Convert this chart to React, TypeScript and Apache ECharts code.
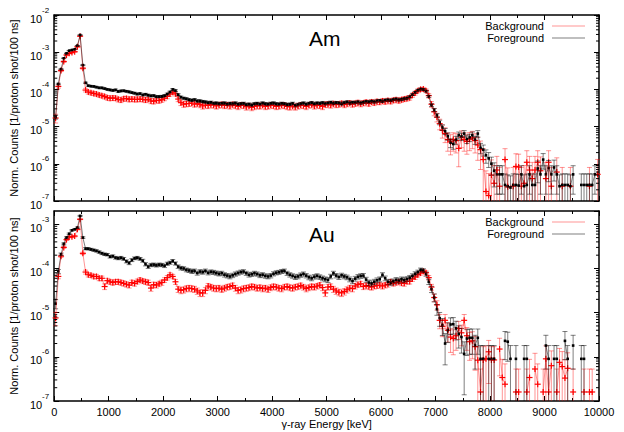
import React, { useEffect, useRef } from "react";
import * as echarts from "echarts";

// ---------- data (50 keV bins, bin centres 25, 75, ..., 9975 keV) ----------
const BIN_WIDTH_KEV = 50;

const amForeground: (number | null)[] = [
  1.8e-5, 1.4e-4, 3.5e-4, 6.9e-4, 9.3e-4, 1.1e-3, 1.15e-3, 1.2e-3, 1.5e-3, 2.9e-3,
  4.5e-4, 1.5e-4, 1.26e-4, 1.22e-4, 1.2e-4, 1.15e-4, 1.1e-4, 1.1e-4, 1.05e-4, 1.0e-4,
  9.7e-5, 9.4e-5, 9.7e-5, 8.8e-5, 9.1e-5, 9.2e-5, 8.9e-5, 8.6e-5, 8.2e-5, 7.9e-5,
  7.5e-5, 7.7e-5, 7.1e-5, 7.4e-5, 7.0e-5, 6.7e-5, 6.8e-5, 6.4e-5, 6.4e-5, 6.5e-5,
  6.8e-5, 7.5e-5, 8.5e-5, 1.0e-4, 9.3e-5, 7.2e-5, 6.2e-5, 5.8e-5, 5.6e-5, 5.3e-5,
  5.1e-5, 5.3e-5, 4.9e-5, 4.9e-5, 4.7e-5, 4.6e-5, 4.4e-5, 4.5e-5, 4.2e-5, 4.3e-5,
  4.1e-5, 4.2e-5, 4.3e-5, 4.0e-5, 4.2e-5, 4.1e-5, 4.3e-5, 4.0e-5, 4.1e-5, 4.2e-5,
  3.9e-5, 4.0e-5, 3.8e-5, 4.1e-5, 4.2e-5, 4.0e-5, 4.3e-5, 4.1e-5, 4.0e-5, 4.2e-5,
  4.3e-5, 4.1e-5, 4.0e-5, 4.2e-5, 4.1e-5, 3.9e-5, 4.0e-5, 4.2e-5, 3.7e-5, 3.9e-5,
  4.1e-5, 4.3e-5, 4.0e-5, 4.2e-5, 4.4e-5, 4.1e-5, 4.3e-5, 4.2e-5, 4.4e-5, 4.1e-5,
  4.3e-5, 4.5e-5, 4.2e-5, 4.4e-5, 4.3e-5, 4.1e-5, 4.4e-5, 4.6e-5, 4.3e-5, 4.5e-5,
  4.4e-5, 4.6e-5, 4.3e-5, 4.5e-5, 4.7e-5, 4.6e-5, 4.8e-5, 4.6e-5, 4.9e-5, 5.0e-5,
  4.8e-5, 5.1e-5, 5.2e-5, 5.0e-5, 5.3e-5, 5.5e-5, 5.2e-5, 5.4e-5, 5.6e-5, 5.8e-5,
  6.3e-5, 7.2e-5, 8.3e-5, 9.5e-5, 1.02e-4, 1.0e-4, 9.0e-5, 6.5e-5, 3.8e-5, 2.8e-5,
  2.0e-5, 1.3e-5, 9.5e-6, 7.5e-6, 5.5e-6, 3.7e-6, 3.4e-6, 4.4e-6, 5.9e-6, 5.4e-6,
  6.5e-6, 4.6e-6, 5.1e-6, 5.9e-6, 4.4e-6, 6.5e-6, 2.7e-6, 2.4e-6, 1.7e-6, 1.4e-6,
  1.0e-6, 6.5e-7, 5.2e-7, 5.2e-7, 5.2e-7, 2.7e-7, 2.5e-7, 2.3e-7, 2.7e-7, 2.7e-7,
  2.6e-7, 5.2e-7, 2.5e-7, 2.7e-7, 5.2e-7, 2.7e-7, 2.7e-7, 7.5e-7, 5.2e-7, 1.3e-6,
  5.2e-7, 7.8e-7, 5.2e-7, 8.0e-7, 5.2e-7, 2.5e-7, 2.7e-7, 2.7e-7, 2.7e-7, 2.5e-7,
  5.2e-7, null, null, 2.7e-7, 2.7e-7, 2.7e-7, 2.7e-7, 2.7e-7, 5.2e-7, null,
];

const amBackground: (number | null)[] = [
  1.7e-5, 1.2e-4, 3.2e-4, 5.6e-4, 8.4e-4, 9.3e-4, 9.8e-4, 1.03e-3, 1.4e-3, 2.7e-3,
  3.7e-4, 9.6e-5, 8.5e-5, 8.1e-5, 7.8e-5, 7.5e-5, 7.1e-5, 6.8e-5, 6.4e-5, 6.0e-5,
  5.8e-5, 5.9e-5, 5.8e-5, 5.4e-5, 5.2e-5, 5.6e-5, 5.7e-5, 5.4e-5, 5.5e-5, 5.4e-5,
  5.4e-5, 5.5e-5, 5.4e-5, 5.2e-5, 5.4e-5, 4.9e-5, 4.8e-5, 5.1e-5, 5.0e-5, 5.3e-5,
  5.8e-5, 6.5e-5, 7.5e-5, 8.4e-5, 7.6e-5, 5.5e-5, 4.4e-5, 4.0e-5, 4.1e-5, 4.2e-5,
  4.3e-5, 4.0e-5, 4.2e-5, 3.9e-5, 3.6e-5, 3.8e-5, 3.7e-5, 3.9e-5, 3.8e-5, 3.6e-5,
  3.8e-5, 3.9e-5, 3.7e-5, 3.8e-5, 3.6e-5, 3.9e-5, 3.7e-5, 3.5e-5, 3.8e-5, 3.7e-5,
  3.4e-5, 3.6e-5, 3.3e-5, 3.5e-5, 3.7e-5, 3.6e-5, 3.8e-5, 3.5e-5, 3.6e-5, 3.8e-5,
  3.7e-5, 3.5e-5, 3.6e-5, 3.8e-5, 3.7e-5, 3.5e-5, 3.4e-5, 3.6e-5, 3.4e-5, 3.6e-5,
  3.8e-5, 3.7e-5, 3.5e-5, 3.8e-5, 3.9e-5, 3.6e-5, 3.8e-5, 3.7e-5, 3.5e-5, 3.9e-5,
  4.0e-5, 3.8e-5, 4.1e-5, 3.9e-5, 4.0e-5, 4.2e-5, 3.9e-5, 4.1e-5, 4.3e-5, 4.0e-5,
  4.2e-5, 4.4e-5, 4.1e-5, 4.3e-5, 4.5e-5, 4.2e-5, 4.6e-5, 4.4e-5, 4.7e-5, 4.6e-5,
  4.9e-5, 4.7e-5, 5.0e-5, 4.8e-5, 5.1e-5, 5.3e-5, 5.0e-5, 5.3e-5, 5.5e-5, 5.7e-5,
  6.0e-5, 7.0e-5, 8.0e-5, 9.2e-5, 1.0e-4, 1.02e-4, 9.2e-5, 6.8e-5, 4.0e-5, 2.5e-5,
  1.8e-5, 1.2e-5, 8.0e-6, 6.5e-6, 4.5e-6, 3.9e-6, 4.5e-6, 4.2e-6, 2.6e-6, 5.2e-6,
  4.5e-6, 4.0e-6, 4.6e-6, 5.0e-6, 4.2e-6, 3.2e-6, 2.4e-6, 1.3e-6, 1.8e-7, 1.4e-7,
  5.0e-7, 3.0e-7, 6.8e-7, 2.5e-7, null, 1.3e-6, 2.4e-7, null, 2.5e-7, 8.5e-7,
  8.2e-7, 2.5e-7, 3.0e-7, 1.1e-6, 6.8e-7, 4.0e-7, 6.8e-7, 1.1e-6, 6.5e-7, null,
  4.0e-7, 1.1e-6, 2.5e-7, null, 6.0e-7, null, 2.5e-7, null, null, 2.5e-7,
  null, null, null, null, null, null, 2.5e-7, null, null, 5.2e-7,
];

const auForeground: (number | null)[] = [
  1.6e-5, 8.6e-5, 2.1e-4, 3.6e-4, 5.0e-4, 6.1e-4, 7.3e-4, 7.7e-4, 8.4e-4, 1.55e-3,
  5.0e-4, 2.8e-4, 2.8e-4, 2.7e-4, 2.6e-4, 2.5e-4, 2.35e-4, 2.2e-4, 2.1e-4, 2.05e-4,
  1.85e-4, 1.9e-4, 1.75e-4, 1.7e-4, 1.75e-4, 1.65e-4, 1.45e-4, 1.33e-4, 1.55e-4, 1.7e-4,
  1.75e-4, 1.65e-4, 1.5e-4, 1.25e-4, 1.1e-4, 1.2e-4, 1.22e-4, 1.18e-4, 1.22e-4, 1.2e-4,
  1.15e-4, 1.28e-4, 1.35e-4, 1.48e-4, 1.3e-4, 1.1e-4, 1.02e-4, 1.0e-4, 9.3e-5, 9.0e-5,
  8.6e-5, 8.8e-5, 7.9e-5, 8.5e-5, 8.3e-5, 8.8e-5, 8.0e-5, 8.4e-5, 8.2e-5, 7.9e-5,
  7.6e-5, 7.8e-5, 7.2e-5, 6.9e-5, 6.6e-5, 7.0e-5, 7.5e-5, 7.9e-5, 8.3e-5, 8.5e-5,
  7.8e-5, 7.2e-5, 7.4e-5, 7.8e-5, 7.5e-5, 7.0e-5, 7.2e-5, 6.8e-5, 6.6e-5, 6.9e-5,
  7.6e-5, 8.0e-5, 8.2e-5, 8.6e-5, 8.8e-5, 7.8e-5, 7.2e-5, 6.8e-5, 6.4e-5, 6.6e-5,
  7.1e-5, 7.5e-5, 6.9e-5, 6.3e-5, 6.0e-5, 6.5e-5, 6.8e-5, 6.4e-5, 6.0e-5, 5.7e-5,
  5.5e-5, 6.6e-5, 7.8e-5, 6.9e-5, 6.4e-5, 7.0e-5, 6.6e-5, 6.3e-5, 5.7e-5, 5.2e-5,
  5.9e-5, 6.5e-5, 6.8e-5, 6.9e-5, 5.6e-5, 4.8e-5, 4.6e-5, 5.0e-5, 5.4e-5, 5.7e-5,
  7.2e-5, 6.0e-5, 5.0e-5, 4.8e-5, 5.1e-5, 5.5e-5, 5.3e-5, 5.7e-5, 5.5e-5, 5.8e-5,
  6.2e-5, 6.8e-5, 7.6e-5, 8.3e-5, 9.3e-5, 9.0e-5, 7.5e-5, 5.0e-5, 3.4e-5, 2.2e-5,
  1.2e-5, 7.5e-6, 5.2e-6, 2.0e-6, 4.0e-6, 5.4e-6, 5.5e-6, 4.4e-6, 3.3e-6, 2.8e-6,
  1.16e-6, 2.6e-6, 2.7e-6, 2.7e-6, 1.8e-6, 2.7e-6, 9.0e-7, 9.0e-7, null, 9.0e-7,
  9.0e-7, 9.0e-7, null, null, null, 2.3e-6, 2.2e-6, 9.0e-7, null, 9.0e-7,
  null, null, 9.0e-7, 9.0e-7, null, null, null, null, null, null,
  1.8e-6, 9.0e-7, null, 9.0e-7, 9.0e-7, null, null, 2.3e-6, 9.0e-7, null,
  1.8e-6, null, null, 9.0e-7, 9.0e-7, null, null, null, null, null,
];

const auBackground: (number | null)[] = [
  7.6e-6, 6.6e-5, 1.9e-4, 3.0e-4, 4.5e-4, 5.2e-4, 5.2e-4, 5.4e-4, 7.7e-4, 1.3e-3,
  2.2e-4, 8.3e-5, 7.2e-5, 7.0e-5, 6.6e-5, 6.6e-5, 6.0e-5, 6.0e-5, 3.9e-5, 5.3e-5,
  5.0e-5, 4.8e-5, 5.0e-5, 5.0e-5, 4.8e-5, 4.6e-5, 4.4e-5, 4.2e-5, 4.8e-5, 4.6e-5,
  5.1e-5, 5.5e-5, 5.2e-5, 5.0e-5, 4.8e-5, 3.6e-5, 4.3e-5, 4.2e-5, 4.5e-5, 4.8e-5,
  5.5e-5, 6.2e-5, 7.2e-5, 6.6e-5, 5.0e-5, 3.4e-5, 3.2e-5, 3.3e-5, 3.5e-5, 3.6e-5,
  3.5e-5, 3.4e-5, 3.1e-5, 2.8e-5, 2.8e-5, 3.2e-5, 4.0e-5, 3.8e-5, 3.6e-5, 3.5e-5,
  3.6e-5, 3.4e-5, 3.6e-5, 3.8e-5, 3.9e-5, 4.1e-5, 3.6e-5, 3.2e-5, 3.3e-5, 3.5e-5,
  3.6e-5, 3.7e-5, 3.9e-5, 3.8e-5, 3.6e-5, 3.7e-5, 3.5e-5, 3.6e-5, 3.4e-5, 3.7e-5,
  3.9e-5, 3.8e-5, 3.6e-5, 3.5e-5, 3.8e-5, 3.9e-5, 3.7e-5, 3.6e-5, 3.8e-5, 3.9e-5,
  4.1e-5, 3.8e-5, 3.5e-5, 3.7e-5, 3.9e-5, 3.8e-5, 4.0e-5, 4.2e-5, 3.7e-5, 2.8e-5,
  3.8e-5, 3.9e-5, 3.4e-5, 3.1e-5, 2.9e-5, 2.8e-5, 3.0e-5, 3.3e-5, 3.6e-5, 3.5e-5,
  4.0e-5, 4.3e-5, 4.5e-5, 3.9e-5, 4.1e-5, 3.9e-5, 3.8e-5, 4.0e-5, 4.1e-5, 4.2e-5,
  4.0e-5, 4.2e-5, 4.4e-5, 5.0e-5, 4.6e-5, 4.8e-5, 5.0e-5, 4.7e-5, 4.6e-5, 5.1e-5,
  5.1e-5, 5.8e-5, 6.4e-5, 7.2e-5, 7.9e-5, 8.6e-5, 8.0e-5, 6.2e-5, 3.8e-5, 2.2e-5,
  1.5e-5, 6.7e-6, 4.9e-6, 6.7e-6, 4.0e-6, 2.8e-6, 2.6e-6, 3.0e-6, 4.4e-6, 3.5e-6,
  6.7e-6, 3.0e-6, 2.2e-6, 2.3e-6, 1.7e-6, 8.4e-7, 1.6e-7, 8.5e-7, 9.0e-7, 1.3e-6,
  8.5e-7, 8.5e-7, null, 1.5e-6, 3.4e-7, 2.4e-7, null, null, null, 1.6e-7,
  1.6e-7, null, null, 1.6e-7, 3.4e-7, null, 5.3e-7, 2.4e-7, null, 1.6e-7,
  9.0e-7, 1.6e-7, 6.3e-7, null, 1.6e-7, 7.5e-7, 6.0e-7, 3.3e-7, 5.5e-7, null,
  1.6e-7, null, null, null, 1.6e-7, null, 1.6e-7, 1.6e-7, null, null,
];

// normalised value of a single count in each spectrum (sets the Poisson error bars)
const amForegroundCountUnit = 2.6e-7;
const amBackgroundCountUnit = 1.2e-6;
const auForegroundCountUnit = 9.0e-7;
const auBackgroundCountUnit = 8.5e-7;

const xTickValues = [0, 1000, 2000, 3000, 4000, 5000, 6000, 7000, 8000, 9000, 10000];
const panelTitles = ["Am", "Au"];
const legendNames = ["Background", "Foreground"];
const yMaxima = [1e-2, 2e-3];
const Y_MIN = 1e-7;

const FONT = '"Liberation Sans", Arial, Helvetica, sans-serif';
const RED = "#ff0000";
const RED_LIGHT = "rgba(255,0,0,0.42)";
const BLACK = "#000000";
const GREY = "rgba(0,0,0,0.5)";

// grid geometry
const GRID_LEFT = 53;
const GRID_RIGHT = 25;
const GRIDS = [
  { top: 15, height: 186 },
  { top: 211, height: 190 },
];

function energyOf(i: number) {
  return BIN_WIDTH_KEV / 2 + i * BIN_WIDTH_KEV;
}

function lineData(values: (number | null)[]) {
  return values.map((v, i) => [energyOf(i), v == null ? "-" : v]);
}

function errData(values: (number | null)[], unit: number) {
  const out: number[][] = [];
  values.forEach((v, i) => {
    if (v == null) return;
    const e = Math.sqrt(v * unit);
    out.push([energyOf(i), v, v - e, v + e]);
  });
  return out;
}

function barRenderer(color: string) {
  return (params: any, api: any) => {
    const cs = params.coordSys;
    const x = api.value(0);
    const v = api.value(1);
    const lo = api.value(2);
    const hi = api.value(3);
    const px = api.coord([x, v])[0];
    const top = cs.y;
    const bottom = cs.y + cs.height;
    const yHi = api.coord([x, hi])[1];
    const yLo = lo > 0 ? api.coord([x, lo])[1] : Infinity;
    const y1 = Math.max(yHi, top);
    const y2 = Math.min(yLo, bottom);
    if (!(y2 > y1)) return null;
    const children: any[] = [
      { type: "line", shape: { x1: px, y1, x2: px, y2 }, style: { stroke: color, lineWidth: 1 } },
    ];
    const cap = 2.5;
    if (yHi >= top) children.push({ type: "line", shape: { x1: px - cap, y1: yHi, x2: px + cap, y2: yHi }, style: { stroke: color, lineWidth: 1 } });
    if (yLo <= bottom) children.push({ type: "line", shape: { x1: px - cap, y1: yLo, x2: px + cap, y2: yLo }, style: { stroke: color, lineWidth: 1 } });
    return { type: "group", children };
  };
}

function markRenderer(kind: "plus" | "square") {
  return (params: any, api: any) => {
    const cs = params.coordSys;
    const p = api.coord([api.value(0), api.value(1)]);
    if (p[1] < cs.y - 1 || p[1] > cs.y + cs.height + 1) return null;
    if (kind === "square") {
      return { type: "rect", shape: { x: p[0] - 1.3, y: p[1] - 1.3, width: 2.6, height: 2.6 }, style: { fill: BLACK } };
    }
    const s = 3;
    return {
      type: "group",
      children: [
        { type: "line", shape: { x1: p[0] - s, y1: p[1], x2: p[0] + s, y2: p[1] }, style: { stroke: RED, lineWidth: 1.2 } },
        { type: "line", shape: { x1: p[0], y1: p[1] - s, x2: p[0], y2: p[1] + s }, style: { stroke: RED, lineWidth: 1.2 } },
      ],
    };
  };
}

function logMinorValues(maxV: number) {
  const vals: number[] = [];
  for (let d = -7; d <= -3; d++) {
    for (let m = 2; m <= 9; m++) {
      const v = m * Math.pow(10, d);
      if (v < maxV * 0.999) vals.push(v);
    }
  }
  return vals;
}

function minorTickRenderer() {
  return (params: any, api: any) => {
    const cs = params.coordSys;
    const y = api.coord([0, api.value(1)])[1];
    if (y < cs.y || y > cs.y + cs.height) return null;
    const l = 3;
    return {
      type: "group",
      children: [
        { type: "line", shape: { x1: cs.x, y1: y, x2: cs.x + l, y2: y }, style: { stroke: BLACK, lineWidth: 1 } },
        { type: "line", shape: { x1: cs.x + cs.width, y1: y, x2: cs.x + cs.width - l, y2: y }, style: { stroke: BLACK, lineWidth: 1 } },
      ],
    };
  };
}

function yLabel(value: number) {
  const e = Math.log10(value);
  const r = Math.round(e);
  if (Math.abs(e - r) > 0.01) return "";
  return "{b|10}{s|" + r + "}";
}

function buildOption() {
  const panels = [
    { fg: amForeground, bg: amBackground, qf: amForegroundCountUnit, qb: amBackgroundCountUnit },
    { fg: auForeground, bg: auBackground, qf: auForegroundCountUnit, qb: auBackgroundCountUnit },
  ];

  const grid = GRIDS.map((g) => ({ left: GRID_LEFT, right: GRID_RIGHT, top: g.top, height: g.height, containLabel: false }));

  const xAxis: any[] = [];
  const yAxis: any[] = [];
  GRIDS.forEach((_, gi) => {
    ["bottom", "top"].forEach((pos) => {
      const primary = pos === "bottom";
      xAxis.push({
        gridIndex: gi,
        type: "value",
        position: pos,
        min: xTickValues[0],
        max: xTickValues[xTickValues.length - 1],
        interval: xTickValues[1] - xTickValues[0],
        axisLine: { show: true, onZero: false, lineStyle: { color: BLACK, width: 1.5 } },
        axisTick: { show: true, inside: true, length: 5, lineStyle: { color: BLACK, width: 1 } },
        minorTick: { show: true, splitNumber: 2, length: 3, lineStyle: { color: BLACK, width: 1 } },
        splitLine: { show: false },
        minorSplitLine: { show: false },
        axisLabel: {
          show: primary && gi === 1,
          color: BLACK,
          fontFamily: FONT,
          fontSize: 11,
          margin: 5,
          formatter: (v: number) => String(v),
        },
        name: primary && gi === 1 ? "γ-ray Energy [keV]" : "",
        nameLocation: "middle",
        nameGap: 17,
        nameTextStyle: { color: BLACK, fontFamily: FONT, fontSize: 11 },
      });
    });
    ["left", "right"].forEach((pos) => {
      const primary = pos === "left";
      yAxis.push({
        gridIndex: gi,
        type: "log",
        logBase: 10,
        position: pos,
        min: Y_MIN,
        max: yMaxima[gi],
        axisLine: { show: true, onZero: false, lineStyle: { color: BLACK, width: 1.5 } },
        axisTick: { show: true, inside: true, length: 5, lineStyle: { color: BLACK, width: 1 } },
        splitLine: { show: false },
        axisLabel: {
          show: primary,
          formatter: yLabel,
          showMaxLabel: gi === 0,
          margin: 5,
          rich: {
            b: { fontFamily: FONT, fontSize: 11, color: BLACK, lineHeight: 18, verticalAlign: "bottom" },
            s: { fontFamily: FONT, fontSize: 8, color: BLACK, lineHeight: 9, verticalAlign: "top" },
          },
        },
        name: primary ? "Norm. Counts [1/proton shot/100 ns]" : "",
        nameLocation: "middle",
        nameGap: 30,
        nameRotate: 90,
        nameTextStyle: { color: BLACK, fontFamily: FONT, fontSize: 11 },
      });
    });
  });

  const series: any[] = [];
  panels.forEach((p, gi) => {
    const xi = gi * 2;
    const yi = gi * 2;
    const sets = [
      { name: legendNames[0], values: p.bg, unit: p.qb, lineColor: RED_LIGHT, barColor: RED_LIGHT, mark: "plus" as const },
      { name: legendNames[1], values: p.fg, unit: p.qf, lineColor: GREY, barColor: GREY, mark: "square" as const },
    ];
    sets.forEach((s) => {
      series.push({
        name: s.name,
        type: "line",
        xAxisIndex: xi,
        yAxisIndex: yi,
        data: lineData(s.values),
        symbol: "none",
        connectNulls: false,
        silent: true,
        lineStyle: { color: s.lineColor, width: 1 },
      });
      const ed = errData(s.values, s.unit);
      series.push({
        name: s.name,
        type: "custom",
        xAxisIndex: xi,
        yAxisIndex: yi,
        data: ed,
        silent: true,
        renderItem: barRenderer(s.barColor),
      });
      series.push({
        name: s.name,
        type: "custom",
        xAxisIndex: xi,
        yAxisIndex: yi,
        data: ed,
        silent: true,
        renderItem: markRenderer(s.mark),
      });
    });
    series.push({
      type: "custom",
      xAxisIndex: xi,
      yAxisIndex: yi,
      data: logMinorValues(yMaxima[gi]).map((v) => [0, v]),
      silent: true,
      renderItem: minorTickRenderer(),
    });
  });

  const graphic: any[] = [];
  GRIDS.forEach((g) => {
    const rows = [
      { name: legendNames[0], color: RED_LIGHT, y: g.top + 11 },
      { name: legendNames[1], color: GREY, y: g.top + 23 },
    ];
    rows.forEach((r) => {
      graphic.push({
        type: "text",
        x: 544,
        y: r.y,
        style: { text: r.name, font: `11px ${FONT}`, fill: BLACK, align: "right", verticalAlign: "middle" },
      });
      graphic.push({
        type: "line",
        shape: { x1: 552, y1: r.y, x2: 585, y2: r.y },
        style: { stroke: r.color, lineWidth: 1 },
      });
    });
  });

  const title = panelTitles.map((t, gi) => ({
    text: t,
    left: 309,
    top: GRIDS[gi].top + 13,
    padding: 0,
    textStyle: { fontFamily: FONT, fontSize: 21, fontWeight: "normal", color: BLACK },
  }));

  return {
    animation: false,
    backgroundColor: "#ffffff",
    title,
    grid,
    xAxis,
    yAxis,
    series,
    graphic,
  };
}

export default function App() {
  const ref = useRef<HTMLDivElement | null>(null);
  useEffect(() => {
    if (!ref.current) return;
    const chart = echarts.init(ref.current, undefined, { renderer: "svg" });
    chart.setOption(buildOption() as any);
    return () => chart.dispose();
  }, []);
  return (
    <div
      ref={ref}
      style={{ position: "fixed", left: 0, top: 0, width: 624, height: 432, background: "#fff" }}
    />
  );
}
